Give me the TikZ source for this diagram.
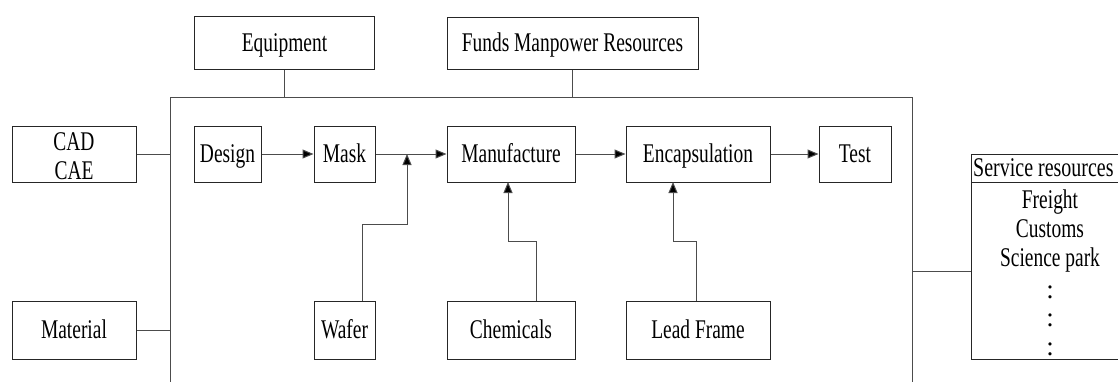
\documentclass[tikz,border=0pt]{standalone}
\usepackage{fontspec}
\setmainfont{Liberation Serif}
\usetikzlibrary{arrows.meta}
\newcommand\sqz[1]{\scalebox{0.72}[1]{#1}}
\begin{document}
\begin{tikzpicture}[x=1pt,y=-1pt,
  txt/.style={inner sep=0pt, font=\fontsize{27}{30}\selectfont, text height=17.5pt, text depth=0pt},
  box/.style={txt, draw=black!85, line width=1pt, align=center},
  conn/.style={draw=black!70, line width=1pt},
  arr/.style={conn, -{Triangle[length=11pt,width=9pt,fill=black]}}]
\useasboundingbox (0,0) rectangle (1118,381);
\clip (0,0) rectangle (1118,381);
% top boxes
\node[box, minimum width=180pt, minimum height=53pt] (equip) at (284.5,42.5) {\sqz{Equipment}};
\node[box, minimum width=251pt, minimum height=52pt] (funds) at (572.5,43) {\sqz{Funds Manpower Resources}};
% frame
\coordinate (fbl) at (170,390);
\coordinate (ftl) at (170,97);
\coordinate (ftr) at (912,97);
\coordinate (fbr) at (912,390);
\draw[conn] (fbl) -- (ftl) -- (ftr) -- (fbr);
% left boxes
\node[box, minimum width=124pt, minimum height=56pt] (cad) at (74,154) {};
\node[txt] at (74,142) {\sqz{CAD}};
\node[txt] at (74,171) {\sqz{CAE}};
\node[box, minimum width=124pt, minimum height=58pt] (material) at (74,330) {\sqz{Material}};
% process boxes
\node[box, minimum width=67pt, minimum height=56pt] (design) at (227.5,154) {\sqz{Design}};
\node[box, minimum width=61pt, minimum height=56pt] (mask) at (344.5,154) {\sqz{Mask}};
\node[box, minimum width=128pt, minimum height=56pt] (manuf) at (511,154) {\sqz{Manufacture}};
\node[box, minimum width=144pt, minimum height=56pt] (encap) at (698,154) {\sqz{Encapsulation}};
\node[box, minimum width=72pt, minimum height=56pt] (test) at (855,154) {\sqz{Test}};
% input boxes
\node[box, minimum width=61pt, minimum height=58pt] (wafer) at (344.5,330) {\sqz{Wafer}};
\node[box, minimum width=128pt, minimum height=58pt] (chem) at (511,330) {\sqz{Chemicals}};
\node[box, minimum width=144pt, minimum height=58pt] (lead) at (698,330) {\sqz{Lead Frame}};
% service resources
\node[draw=black!85, line width=1pt, inner sep=0pt, minimum width=158pt, minimum height=205pt] (serv) at (1050,256.5) {};
\draw[draw=black!85, line width=1pt] (971,182) -- (1129,182);
\node[txt, anchor=west] (servh) at (973,168) {\scalebox{0.74}[1]{Service resources}};
\node[txt] (s1) at (1050,200) {\sqz{Freight}};
\node[txt] (s2) at (1050,229) {\sqz{Customs}};
\node[txt] (s3) at (1050,258) {\sqz{Science park}};
\node[txt] (s4) at (1050,290) {:};
\node[txt] (s5) at (1050,318) {:};
\node[txt] (s6) at (1050,347) {:};
% connectors to frame
\draw[conn] (equip.south) -- (equip.south |- ftl);
\draw[conn] (funds.south) -- (funds.south |- ftl);
\draw[conn] (cad.east) -- (cad.east -| ftl);
\draw[conn] (material.east) -- (material.east -| ftl);
\draw[conn] (serv.west |- 0,271) -- (912,271);
% process arrows
\coordinate (j1) at (407,154);
\draw[arr] (design.east) -- (mask.west);
\draw[arr] (mask.east) -- (manuf.west);
\draw[arr] (encap.west -| manuf.east) -- (encap.west);
\draw[arr] (encap.east) -- (test.west);
% input arrows
\draw[arr] ([xshift=17.5pt]wafer.north) |- (407,224) -- (j1);
\draw[arr] ([xshift=25pt]chem.north) |- (508,241) -- (508,182);
\draw[arr] ([xshift=-2pt]lead.north) |- (673,241) -- (673,182);
\end{tikzpicture}
\end{document}
